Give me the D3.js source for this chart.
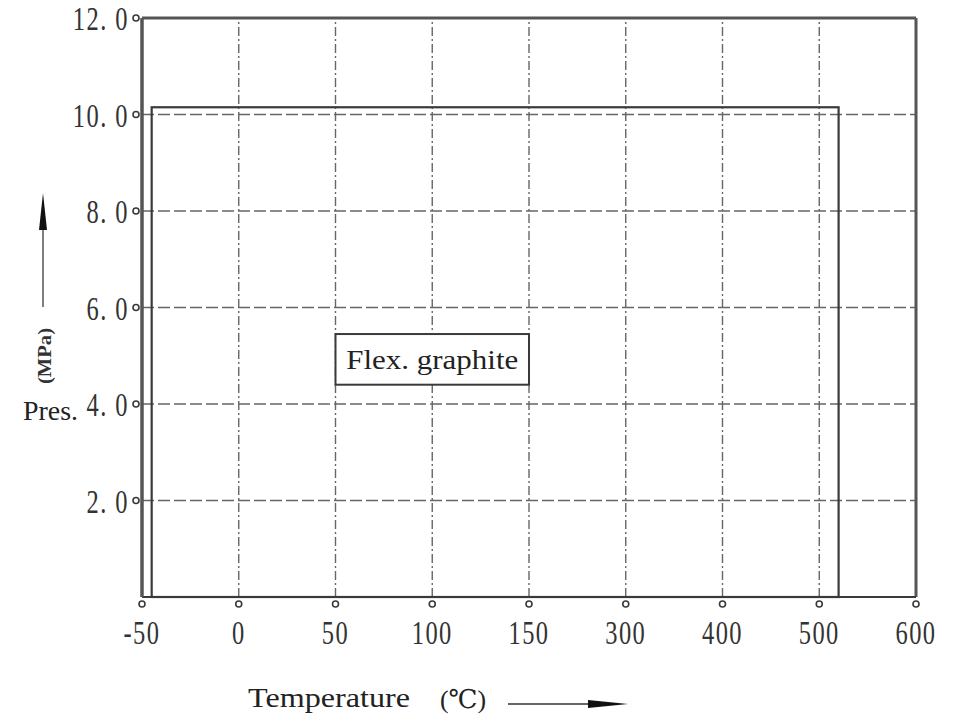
<!DOCTYPE html>
<html>
<head>
<meta charset="utf-8">
<script src="https://cdn.jsdelivr.net/npm/d3@7"></script>
<style>
  body { margin: 0; background: #fff; }
  svg { display: block; }
</style>
</head>
<body>
<div id="chartDiv"></div>
<script>
// temperature ticks (the axis is spaced evenly per tick, not linear)
var tempTicks = [-50, 0, 50, 100, 150, 300, 400, 500, 600];
var presTicks = [2, 4, 6, 8, 10, 12];
var presLabels = ["2. 0", "4. 0", "6. 0", "8. 0", "10. 0", "12. 0"];

// rated area for flexible graphite
var ratingTemp = [-45, 520];
var ratingPres = [0, 10.15];

// label box
var labelText = "Flex. graphite";
var labelTemp = [50, 150];
var labelPres = [4.4, 5.45];

var svg = d3.select("#chartDiv").append("svg").attr("width", 958).attr("height", 725),
  margin = {top: 18, right: 42, bottom: 128, left: 142},
  width = svg.attr("width") - margin.left - margin.right,
  height = svg.attr("height") - margin.top - margin.bottom;

var g = svg.append("g").attr("transform", "translate(" + margin.left + "," + margin.top + ")");

var step = width / (tempTicks.length - 1);
var x = d3.scaleLinear()
  .domain(tempTicks)
  .range(tempTicks.map(function (d, i) { return i * step; }));
var y = d3.scaleLinear().domain([0, 12]).range([height, 0]);

var ink = "#3a3a3a";

// grid lines
g.selectAll(".vgrid")
  .data(tempTicks.slice(1, -1))
  .enter().append("line")
  .attr("class", "vgrid")
  .attr("x1", function (d) { return x(d); })
  .attr("x2", function (d) { return x(d); })
  .attr("y1", y(0))
  .attr("y2", y(12))
  .attr("stroke", "#666")
  .attr("stroke-width", 1.4)
  .attr("stroke-dasharray", "9,3,2,3");

g.selectAll(".hgrid")
  .data(presTicks.slice(0, -1))
  .enter().append("line")
  .attr("class", "hgrid")
  .attr("x1", x(-50))
  .attr("x2", x(600))
  .attr("y1", function (d) { return y(d); })
  .attr("y2", function (d) { return y(d); })
  .attr("stroke", "#666")
  .attr("stroke-width", 1.4)
  .attr("stroke-dasharray", "12,4");

// frame
g.append("line").attr("x1", x(-50)).attr("x2", x(600)).attr("y1", y(12)).attr("y2", y(12))
  .attr("stroke", "#555").attr("stroke-width", 3);
g.append("line").attr("x1", x(600)).attr("x2", x(600)).attr("y1", y(12)).attr("y2", y(0))
  .attr("stroke", "#555").attr("stroke-width", 3);
g.append("line").attr("x1", x(-50)).attr("x2", x(600)).attr("y1", y(0)).attr("y2", y(0))
  .attr("stroke", ink).attr("stroke-width", 2);
g.append("line").attr("x1", x(-50)).attr("x2", x(-50)).attr("y1", y(12)).attr("y2", y(0))
  .attr("stroke", "#555").attr("stroke-width", 3.5);

// rated area
g.append("rect")
  .attr("x", x(ratingTemp[0]))
  .attr("y", y(ratingPres[1]))
  .attr("width", x(ratingTemp[1]) - x(ratingTemp[0]))
  .attr("height", y(ratingPres[0]) - y(ratingPres[1]))
  .attr("fill", "none")
  .attr("stroke", ink)
  .attr("stroke-width", 2.2);

// label box
g.append("rect")
  .attr("x", x(labelTemp[0]))
  .attr("y", y(labelPres[1]))
  .attr("width", x(labelTemp[1]) - x(labelTemp[0]))
  .attr("height", y(labelPres[0]) - y(labelPres[1]))
  .attr("fill", "#fff")
  .attr("stroke", ink)
  .attr("stroke-width", 2);

g.append("text")
  .attr("x", (x(labelTemp[0]) + x(labelTemp[1])) / 2)
  .attr("y", (y(labelPres[0]) + y(labelPres[1])) / 2)
  .attr("dy", "0.35em")
  .style("text-anchor", "middle")
  .style("font-family", "'Liberation Serif', 'DejaVu Serif', serif")
  .style("font-size", 28)
  .attr("fill", "#222")
  .attr("textLength", 172)
  .attr("lengthAdjust", "spacingAndGlyphs")
  .text(labelText);

// x ticks: small circles and condensed labels
var xt = g.selectAll(".xtick")
  .data(tempTicks)
  .enter().append("g")
  .attr("class", "xtick")
  .attr("transform", function (d) { return "translate(" + x(d) + "," + y(0) + ")"; });

xt.append("circle").attr("cy", 7).attr("r", 3)
  .attr("fill", "#fff").attr("stroke", ink).attr("stroke-width", 1.6);

xt.append("text")
  .attr("transform", "translate(0,47) scale(0.72,1)")
  .style("text-anchor", "middle")
  .style("font-family", "'Liberation Serif', serif")
  .style("font-size", 34)
  .style("letter-spacing", "2px")
  .attr("fill", "#333")
  .text(function (d) { return d; });

// y ticks
var yt = g.selectAll(".ytick")
  .data(presTicks)
  .enter().append("g")
  .attr("class", "ytick")
  .attr("transform", function (d) { return "translate(0," + y(d) + ")"; });

yt.append("circle").attr("cx", -6).attr("r", 3)
  .attr("fill", "#fff").attr("stroke", ink).attr("stroke-width", 1.6);

yt.append("text")
  .attr("transform", "translate(-13,12) scale(0.72,1)")
  .style("text-anchor", "end")
  .style("font-family", "'Liberation Serif', serif")
  .style("font-size", 34)
  .style("letter-spacing", "2px")
  .attr("fill", "#333")
  .text(function (d, i) { return presLabels[i]; });

// axis titles
var titleFont = "'Liberation Serif', 'DejaVu Serif', serif";

svg.append("text")
  .attr("x", 248).attr("y", 707)
  .style("font-family", titleFont)
  .style("font-size", 28)
  .attr("fill", "#222")
  .attr("textLength", 162)
  .attr("lengthAdjust", "spacingAndGlyphs")
  .text("Temperature");

svg.append("text")
  .attr("x", 440).attr("y", 708)
  .style("font-family", titleFont)
  .style("font-size", 26)
  .attr("fill", "#222")
  .attr("textLength", 46)
  .attr("lengthAdjust", "spacingAndGlyphs")
  .text("(℃)");

svg.append("line")
  .attr("x1", 508).attr("x2", 600).attr("y1", 704).attr("y2", 704)
  .attr("stroke", "#333").attr("stroke-width", 1.5);
svg.append("path")
  .attr("d", "M588,700 L628,704 L588,708 Z")
  .attr("fill", "#111");

svg.append("text")
  .attr("x", 23).attr("y", 420)
  .style("font-family", titleFont)
  .style("font-size", 28)
  .attr("fill", "#222")
  .attr("textLength", 55)
  .attr("lengthAdjust", "spacingAndGlyphs")
  .text("Pres.");

svg.append("text")
  .attr("transform", "translate(51,384) rotate(-90)")
  .style("font-family", titleFont)
  .style("font-size", 18)
  .style("font-weight", "bold")
  .attr("fill", "#333")
  .attr("textLength", 56)
  .attr("lengthAdjust", "spacingAndGlyphs")
  .text("(MPa)");

svg.append("line")
  .attr("x1", 43).attr("x2", 43).attr("y1", 307).attr("y2", 220)
  .attr("stroke", "#555").attr("stroke-width", 1.5);
svg.append("path")
  .attr("d", "M39,230 L43,193 L47,230 Z")
  .attr("fill", "#111");
</script>
</body>
</html>
